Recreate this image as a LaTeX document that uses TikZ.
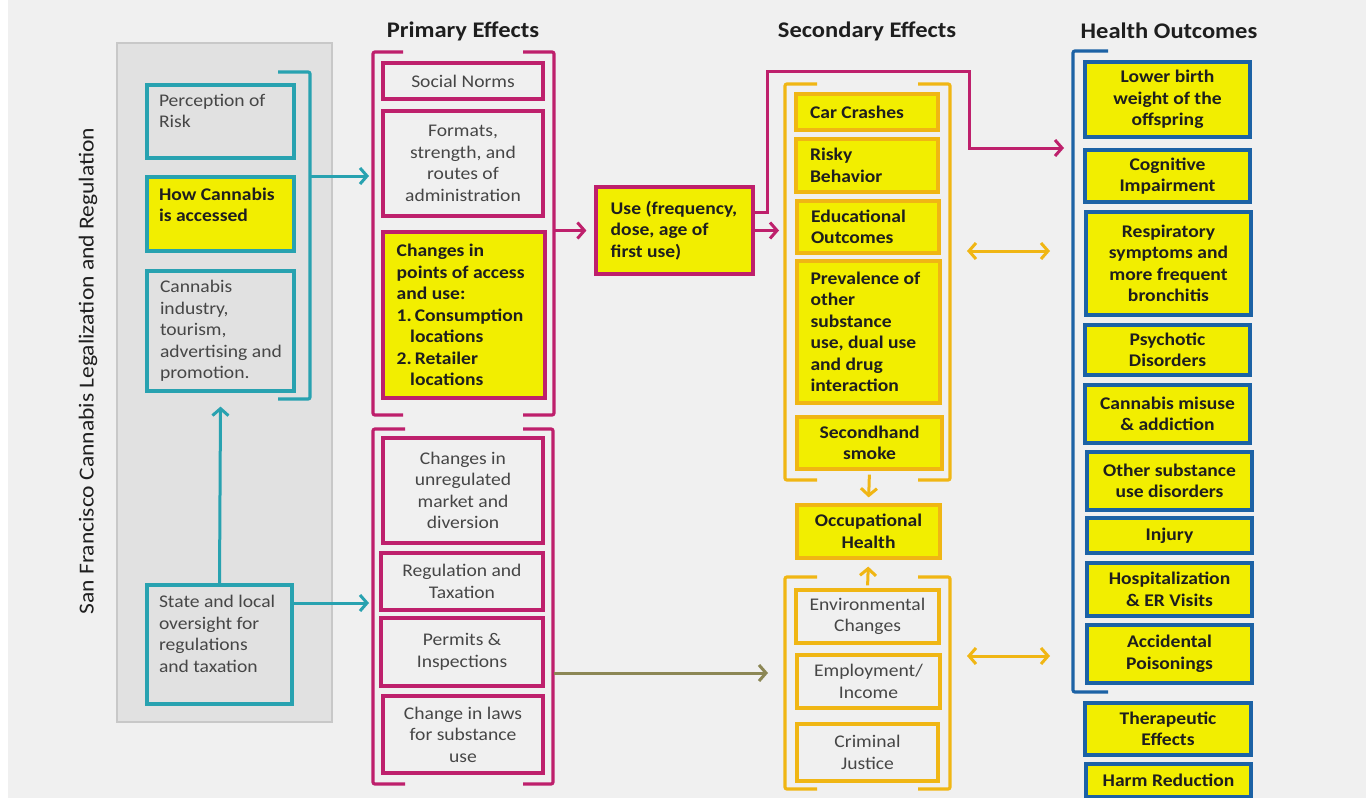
\documentclass[tikz,border=0pt]{standalone}
\usepackage{fontspec}
\setmainfont{Carlito}[FakeStretch=1.1]
\usetikzlibrary{arrows.meta}
\definecolor{bgc}{RGB}{240,240,240}
\definecolor{panelc}{RGB}{225,225,225}
\definecolor{panelb}{RGB}{200,200,200}
\definecolor{cteal}{RGB}{40,162,176}
\definecolor{cmag}{RGB}{190,32,108}
\definecolor{cgold}{RGB}{240,182,20}
\definecolor{cyel}{RGB}{242,238,0}
\definecolor{cblue}{RGB}{28,98,165}
\definecolor{colive}{RGB}{140,135,85}
\definecolor{txtg}{RGB}{70,70,70}
\definecolor{txtb}{RGB}{30,30,30}
\newcommand\cbx[7]{\node[#2,minimum width={(#5)-(#3)},minimum height={(#6)-(#4)},align=center,inner sep=0pt] (#1) at ({((#3)+(#5))/2},{((#4)+(#6))/2}) {#7};}
\newcommand\lbx[8]{\node[#2,minimum width={(#5)-(#3)},minimum height={(#6)-(#4)},inner sep=0pt] (#1) at ({((#3)+(#5))/2},{((#4)+(#6))/2}) {\hspace*{#7pt}\parbox{\dimexpr #5pt-#3pt-#7pt-2pt\relax}{\raggedright #8}\hspace*{2pt}};}
\newcommand\tbx[9]{\node[#2,minimum width={(#5)-(#3)},minimum height={(#6)-(#4)},inner sep=0pt] (#1) at ({((#3)+(#5))/2},{((#4)+(#6))/2}) {\hspace*{#7pt}\parbox[c][\dimexpr #6pt-#4pt-#8pt-#8pt\relax][t]{\dimexpr #5pt-#3pt-#7pt-2pt\relax}{\raggedright #9}\hspace*{2pt}};}
\begin{document}
\begin{tikzpicture}[x=1pt,y=-1pt,
  every node/.style={font=\fontsize{17.8}{21.5}\selectfont,text=txtg},
  bt/.style={font=\fontsize{17.8}{21.5}\selectfont\bfseries,text=txtb},
  tealbox/.style={draw=cteal,line width=3.2pt},
  magbox/.style={draw=cmag,line width=3.2pt},
  goldbox/.style={draw=cgold,line width=3.2pt},
  bluebox/.style={draw=cblue,line width=3.2pt,fill=cyel,bt},
  yel/.style={fill=cyel,bt},
  brk/.style={line width=3.2pt,rounded corners=2pt},
  arr/.style={-{Straight Barb[length=7pt,width=16pt]},line width=3pt},
  darr/.style={{Straight Barb[length=7pt,width=16pt]}-{Straight Barb[length=7pt,width=16pt]},line width=3pt,draw=cgold},
  title/.style={font=\fontsize{22.3}{26}\selectfont\bfseries,text=txtb}]
\useasboundingbox (0,0) rectangle (1366,798);
\fill[white] (0,0) rectangle (1366,798);
\fill[bgc] (8,0) rectangle (1366,798);

% titles
\node[title] (t1) at (463,31) {Primary Effects};
\node[title] (t2) at (867,31) {Secondary Effects};
\node[title] (t3) at (1169,31) {Health Outcomes};

% left panel
\cbx{panel}{draw=panelb,fill=panelc,line width=2.4pt}{117}{43}{332}{722}{}
\node[rotate=90,font=\fontsize{21.4}{25}\selectfont,text=txtb] (vt) at (88,371) {San Francisco Cannabis Legalization and Regulation};
\tbx{perc}{tealbox}{147}{85}{294}{158}{12}{9}{Perception of\\Risk}
\tbx{how}{tealbox,yel}{147}{177}{294}{251}{12}{11}{How Cannabis\\is accessed}
\lbx{ind}{tealbox}{147}{271}{294}{391}{13}{Cannabis\\industry,\\tourism,\\advertising and\\promotion.}
\tbx{state}{tealbox}{147}{585}{292}{704}{12}{10.5}{State and local\\oversight for\\regulations\\and taxation}
\draw[brk,cteal] (278,72) -- (310,72) -- (310,399) -- (278,399);
\coordinate (tbR) at (310,176);
\coordinate (pbL1) at (369,176);
\coordinate (pbL2) at (369,603);
\draw[arr,cteal] (tbR) -- (pbL1);
\draw[arr,cteal] (state.east |- pbL2) -- (pbL2);
\draw[arr,cteal] (state.north) -- ([yshift=-14pt]ind.south);

% primary effects
\draw[brk,cmag] (403,52) -- (373,52) -- (373,415) -- (403,415);
\draw[brk,cmag] (523,52) -- (554,52) -- (554,415) -- (523,415);
\cbx{soc}{magbox}{383}{63}{543}{99}{Social Norms}
\cbx{fmt}{magbox}{383}{111}{543}{216}{Formats,\\strength, and\\routes of\\administration}
\lbx{chg}{magbox,yel}{383}{232}{545}{398}{13.7}{Changes in\\points of access\\and use:\\1.\,Consumption\\\hspace*{13.5pt}locations\\2.\,Retailer\\\hspace*{13.5pt}locations}
\draw[brk,cmag] (405,429) -- (373,429) -- (373,784) -- (405,784);
\draw[brk,cmag] (523,429) -- (553,429) -- (553,784) -- (523,784);
\cbx{unreg}{magbox}{383}{438}{543}{543}{Changes in\\unregulated\\market and\\diversion}
\cbx{regt}{magbox}{381}{553}{543}{610}{Regulation and\\Taxation}
\cbx{perm}{magbox}{381}{618}{543}{686}{Permits \&\\Inspections}
\cbx{laws}{magbox}{383}{696}{543}{773}{Change in laws\\for substance\\use}

% use box
\lbx{use}{magbox,yel}{596}{187}{753}{274}{14.7}{Use (frequency,\\dose, age of\\first use)}
\coordinate (pbR) at (554,230);
\draw[arr,cmag] (pbR |- use.west) -- ([xshift=-8pt]use.west);
\coordinate (sbL1) at (779,230);
\draw[arr,cmag] (use.east) -- (sbL1 |- use.east);
\coordinate (hbL) at (1064,148);
\draw[arr,cmag] (use.east |- 0,212) -| (767,71) -| (969,148) -- (hbL);

% secondary effects
\draw[brk,cgold] (817,84) -- (785,84) -- (785,480) -- (817,480);
\draw[brk,cgold] (918,84) -- (950,84) -- (950,480) -- (918,480);
\lbx{car}{goldbox,yel}{796}{94}{938}{130}{14}{Car Crashes}
\lbx{risky}{goldbox,yel}{796}{139}{938}{192}{14}{Risky\\Behavior}
\lbx{edu}{goldbox,yel}{797}{201}{939}{253}{14}{Educational\\Outcomes}
\lbx{prev}{goldbox,yel}{797}{261}{940}{403}{13.5}{Prevalence of\\other\\substance\\use, dual use\\and drug\\interaction}
\cbx{smoke}{goldbox,yel}{797}{417}{942}{469}{Secondhand\\smoke}
\cbx{occ}{goldbox,yel}{797}{505}{940}{558}{Occupational\\Health}
\draw[brk,cgold] (817,577) -- (785,577) -- (785,789) -- (817,789);
\draw[brk,cgold] (918,577) -- (950,577) -- (950,789) -- (918,789);
\cbx{env}{goldbox}{796}{590}{939}{643}{Environmental\\Changes}
\cbx{emp}{goldbox}{797}{655}{940}{708}{Employment/\\Income}
\cbx{crim}{goldbox}{797}{724}{938}{781}{Criminal\\Justice}
\draw[arr,cgold,shorten <=4pt,shorten >=6pt] (smoke.south) -- (occ.north);
\draw[arr,cgold,shorten <=3pt,shorten >=7pt] (env.north) -- (occ.south);
\coordinate (d1a) at (967,251);
\coordinate (d1b) at (1050,251);
\coordinate (d2a) at (967,656);
\coordinate (d2b) at (1050,656);
\draw[darr] (d1a) -- (d1b);
\draw[darr] (d2a) -- (d2b);
\coordinate (pb2R) at (554,673);
\coordinate (sb2L) at (768,673);
\draw[arr,colive] (pb2R) -- (sb2L);

% health outcomes
\draw[brk,cblue] (1108,51) -- (1073,51) -- (1073,692) -- (1108,692);
\cbx{h1}{bluebox}{1085}{62}{1250}{137}{Lower birth\\weight of the\\offspring}
\cbx{h2}{bluebox}{1085}{150}{1250}{202}{Cognitive\\Impairment}
\cbx{h3}{bluebox}{1086}{212}{1251}{315}{Respiratory\\symptoms and\\more frequent\\bronchitis}
\cbx{h4}{bluebox}{1085}{325}{1250}{375}{Psychotic\\Disorders}
\cbx{h5}{bluebox}{1085}{385}{1250}{443}{Cannabis misuse\\\& addiction}
\cbx{h6}{bluebox}{1087}{452}{1252}{510}{Other substance\\use disorders}
\cbx{h7}{bluebox}{1087}{518}{1252}{553}{Injury}
\cbx{h8}{bluebox}{1087}{563}{1252}{616}{Hospitalization\\\& ER Visits}
\cbx{h9}{bluebox}{1087}{625}{1252}{683}{Accidental\\Poisonings}
\cbx{h10}{bluebox}{1085}{703}{1251}{755}{Therapeutic\\Effects}
\cbx{h11}{bluebox}{1086}{764}{1251}{797}{Harm Reduction}
\end{tikzpicture}
\end{document}
